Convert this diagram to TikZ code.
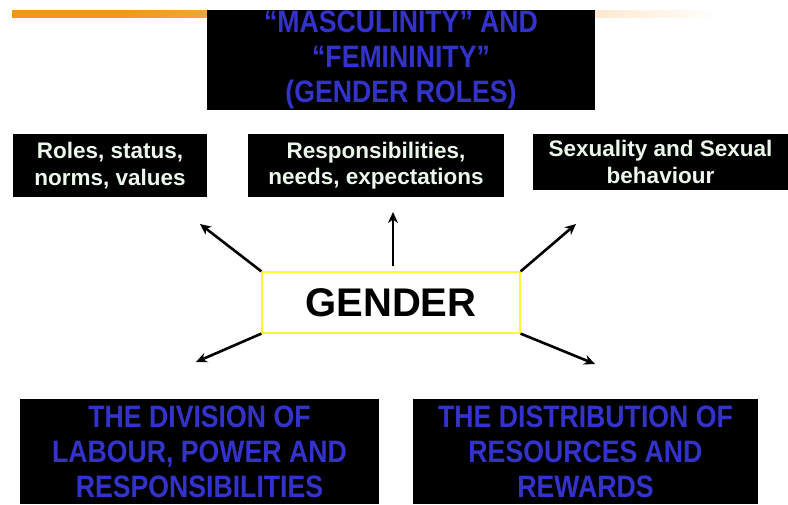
\documentclass[tikz,border=0pt]{standalone}
\usepackage{fontspec}
\setmainfont{Liberation Sans}
\newfontfamily\narrowfont[FakeStretch=0.86]{Liberation Sans}
\usetikzlibrary{arrows.meta}
\definecolor{capsblue}{RGB}{51,51,204}
\definecolor{palegreen}{RGB}{236,248,236}
\definecolor{slideorange}{RGB}{247,148,30}
% inner 25bp..75bp of the shading covers the bar
\pgfdeclarehorizontalshading{headerbar}{100bp}{color(0bp)=(slideorange); color(33bp)=(slideorange); color(75bp)=(white); color(100bp)=(white)}
\tikzstyle{bigbox}=[fill=black, text=capsblue, font=\narrowfont\bfseries\fontsize{31}{35}\selectfont, align=center, inner sep=0pt]
\tikzstyle{smallbox}=[fill=black, text=palegreen, font=\bfseries\fontsize{22.5}{26.5}\selectfont, align=center, inner sep=0pt]
\tikzstyle{pointer}=[-{Stealth[length=11pt,width=10pt]}, line width=2.6pt]

\begin{document}
\begin{tikzpicture}[x=1pt,y=-1pt] % pixel grid, y downwards
\useasboundingbox (0,0) rectangle (788,504);
% slide header bar
\shade[shading=headerbar] (12,10) rectangle (720,17);

\node[bigbox, minimum width=388pt, minimum height=100pt] (genroles) at (401,60)
  {“MASCULINITY” AND\\“FEMININITY”\\(GENDER ROLES)};

\node[smallbox, minimum width=194pt, minimum height=63pt] (norms) at (110,165.5)
  {Roles, status,\\norms, values};
\node[smallbox, minimum width=256pt, minimum height=63pt] (needs) at (376,165.5)
  {Responsibilities,\\needs, expectations};
\node[smallbox, minimum width=255pt, minimum height=56pt] (sexual) at (660.5,162)
  {Sexuality and Sexual\\behaviour};

\node[draw=yellow!80!white, line width=1.2pt, fill=white, minimum width=258pt, minimum height=61pt,
  font=\bfseries\fontsize{40}{40}\selectfont] (gender) at (391,302.5) {GENDER};

\node[bigbox, minimum width=359pt, minimum height=105pt] (labour) at (199.5,451.5)
  {THE DIVISION OF\\LABOUR, POWER AND\\RESPONSIBILITIES};
\node[bigbox, minimum width=345pt, minimum height=105pt] (rewards) at (585.5,451.5)
  {THE DISTRIBUTION OF\\RESOURCES AND\\REWARDS};

% free ends of the arrows
\coordinate (upleft) at (200,224);
\coordinate (up) at (393,212);
\coordinate (upright) at (576,224);
\coordinate (downleft) at (196,362);
\coordinate (downright) at (595,364);

\draw[pointer] (gender.north west) -- (upleft);
\draw[pointer, shorten <=5pt] ([xshift=2pt]gender.north) -- (up);
\draw[pointer] (gender.north east) -- (upright);
\draw[pointer] (gender.south west) -- (downleft);
\draw[pointer] (gender.south east) -- (downright);
\end{tikzpicture}
\end{document}
